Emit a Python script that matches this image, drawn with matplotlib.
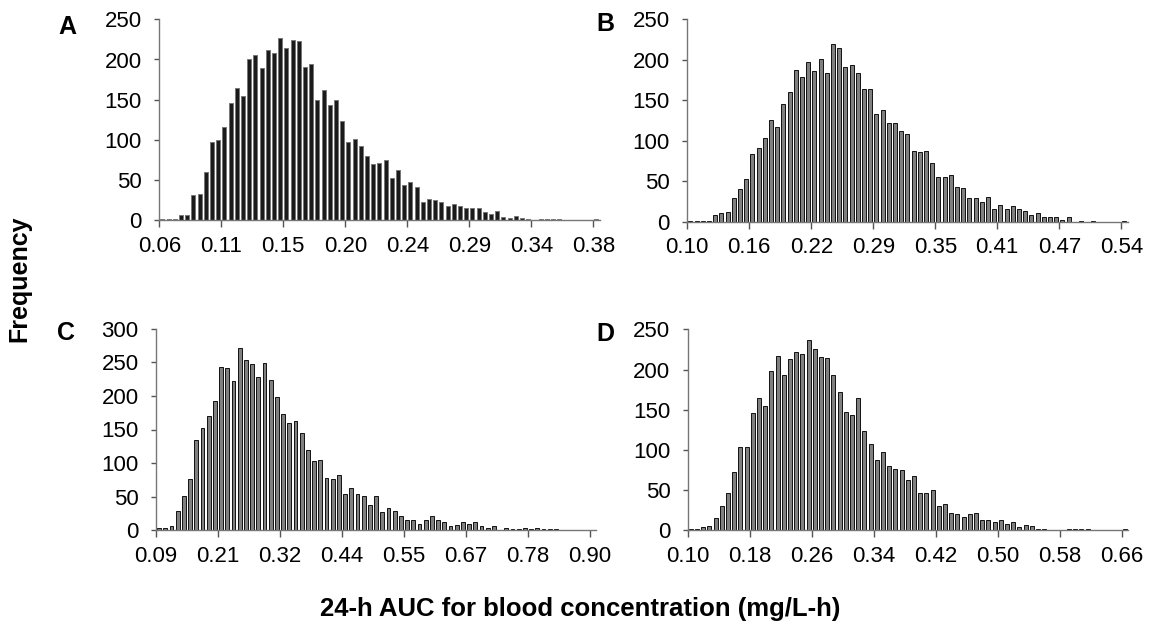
import numpy as np
import matplotlib
matplotlib.use("Agg")
import matplotlib.pyplot as plt

plt.rcParams['font.family'] = ['Liberation Sans', 'DejaVu Sans']

# counts per bin (71 bins per panel)
freq_a = [1, 1, 1, 7, 7, 31, 33, 60, 97, 100,
          116, 146, 165, 155, 201, 206, 189, 212, 208, 227,
          214, 224, 223, 191, 194, 150, 162, 143, 150, 124,
          98, 101, 93, 80, 70, 71, 75, 52, 63, 44,
          48, 42, 23, 27, 25, 23, 18, 20, 18, 15,
          15, 15, 10, 8, 11, 4, 3, 5, 3, 2,
          0, 1, 1, 1, 1, 0, 0, 0, 0, 0, 1]
freq_b = [1, 1, 1, 1, 8, 11, 12, 29, 40, 52,
          84, 91, 103, 125, 117, 145, 160, 187, 179, 197,
          186, 201, 183, 220, 215, 191, 193, 183, 164, 164,
          133, 138, 122, 122, 112, 108, 87, 86, 87, 72,
          55, 55, 58, 43, 42, 29, 29, 24, 30, 16,
          21, 15, 19, 15, 13, 8, 11, 5, 5, 5,
          2, 5, 0, 1, 0, 1, 0, 0, 0, 0, 1]
freq_c = [3, 3, 6, 28, 51, 77, 134, 152, 170, 193,
          243, 241, 222, 271, 254, 248, 228, 249, 223, 199,
          173, 160, 162, 145, 120, 103, 104, 78, 76, 82,
          54, 63, 54, 51, 38, 51, 27, 33, 28, 21,
          16, 16, 10, 15, 21, 15, 13, 6, 8, 12,
          10, 12, 6, 3, 6, 1, 3, 2, 2, 3,
          2, 3, 2, 2, 2, 0, 1, 0, 0, 0, 1]
freq_d = [1, 1, 4, 5, 15, 30, 47, 73, 103, 104,
          146, 165, 154, 198, 217, 193, 213, 222, 219, 237,
          226, 215, 214, 193, 172, 147, 143, 165, 124, 107,
          88, 97, 80, 76, 75, 62, 68, 47, 47, 50,
          30, 33, 22, 20, 17, 20, 22, 13, 13, 10,
          13, 8, 10, 4, 7, 5, 2, 1, 0, 0,
          0, 1, 1, 1, 1, 0, 0, 0, 0, 0, 1]

labels_a = ['0.06', '0.11', '0.15', '0.20', '0.24', '0.29', '0.34', '0.38']
labels_b = ['0.10', '0.16', '0.22', '0.29', '0.35', '0.41', '0.47', '0.54']
labels_c = ['0.09', '0.21', '0.32', '0.44', '0.55', '0.67', '0.78', '0.90']
labels_d = ['0.10', '0.18', '0.26', '0.34', '0.42', '0.50', '0.58', '0.66']

W, H = 1160, 633
fig = plt.figure(figsize=(W / 100, H / 100), dpi=100)


def px_axes(left, top, right, bottom):
    return fig.add_axes([left / W, 1 - bottom / H, (right - left) / W, (bottom - top) / H])


panels = [
    ('A', freq_a, labels_a, 250, (159.3, 19.3, 599.5, 220.3), '#1a1a1a', '#777777', (67, 27)),
    ('B', freq_b, labels_b, 250, (687.3, 19.3, 1127.5, 221.5), '#808080', '#111111', (605, 24)),
    ('C', freq_c, labels_c, 300, (156.0, 328.7, 596.2, 530.3), '#808080', '#111111', (66, 333)),
    ('D', freq_d, labels_d, 250, (687.7, 329.3, 1127.9, 530.3), '#808080', '#111111', (605, 334)),
]

for letter, freq, labels, ymax, box, fill, edge, lpos in panels:
    ax = px_axes(*box)
    x = np.arange(len(freq)) + 0.5
    ax.bar(x, freq, width=0.62, color=fill, edgecolor=edge, linewidth=0.7)
    ax.set_xlim(0, len(freq))
    ax.set_ylim(0, ymax)
    ax.set_yticks(np.arange(0, ymax + 1, 50))
    ax.set_xticks(np.arange(0, 71, 10))
    ax.set_xticklabels(labels)
    for s in ['top', 'right']:
        ax.spines[s].set_visible(False)
    for s in ['left', 'bottom']:
        ax.spines[s].set_color('#777777')
        ax.spines[s].set_linewidth(1.0)
    ax.tick_params(axis='y', length=3.5, width=1, color='#555555', pad=9, labelsize=16)
    ax.tick_params(axis='x', length=5, width=1, color='#555555', pad=6, labelsize=16)
    fig.text(lpos[0] / W, 1 - lpos[1] / H, letter, fontsize=18, fontweight='bold',
             ha='center', va='center')

fig.text(19 / W, 1 - 279 / H, 'Frequency', rotation=90, fontsize=18, fontweight='bold',
         ha='center', va='center')
fig.text(580 / W, 1 - 609 / H, '24-h AUC for blood concentration (mg/L-h)', fontsize=18.5,
         fontweight='bold', ha='center', va='center')

fig.savefig('out.png', dpi=100)
